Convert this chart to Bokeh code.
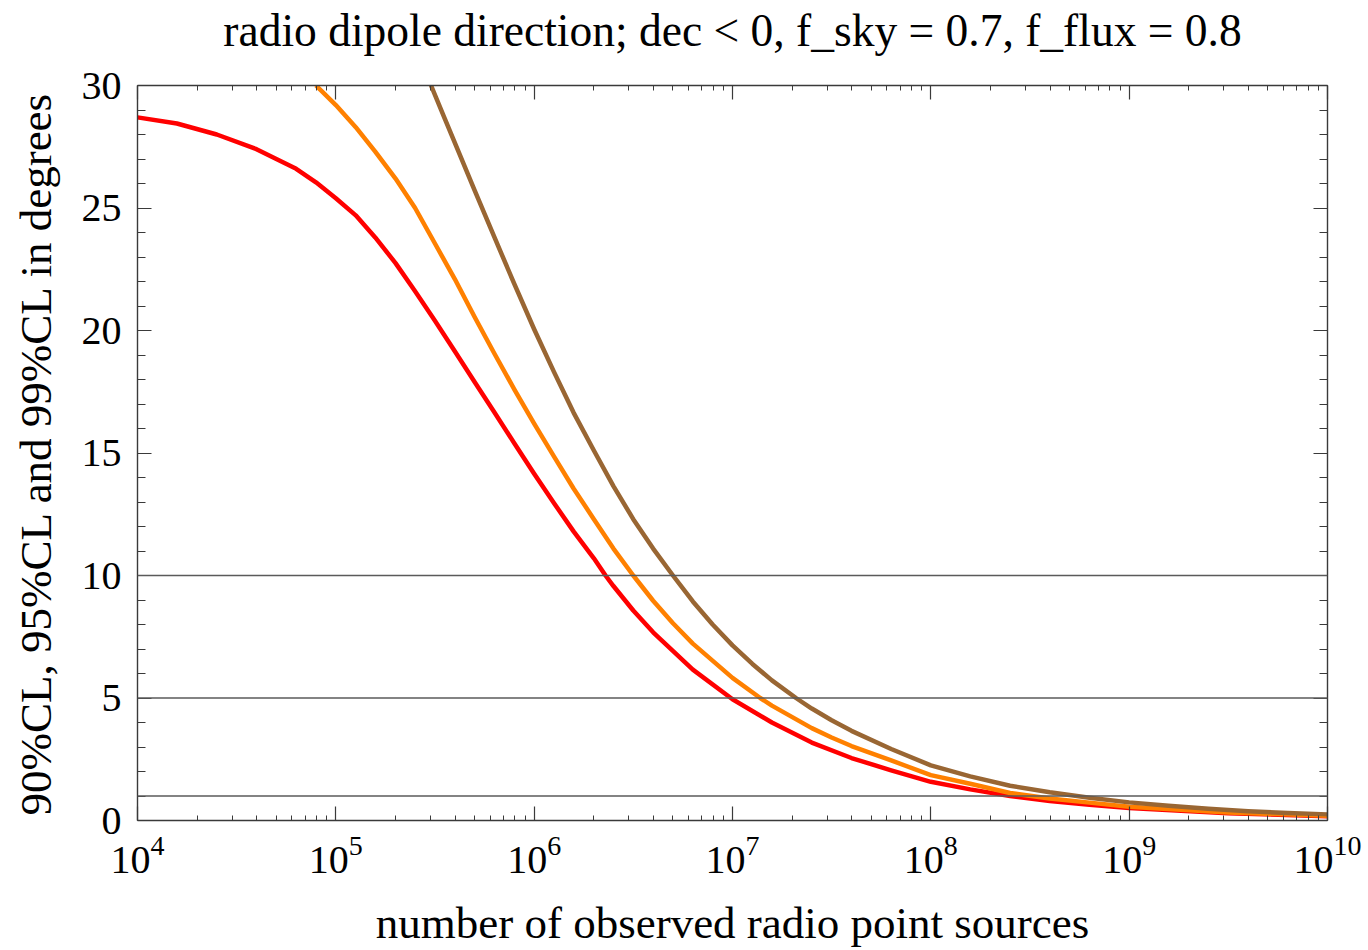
from bokeh.plotting import figure
from bokeh.models import (LogAxis, LinearAxis, SingleIntervalTicker, FixedTicker, Span,
                          Range1d, CustomJSTickFormatter)
from bokeh.embed import file_html
from bokeh.resources import INLINE

# ---------------- data ----------------
title_text = "radio dipole direction; dec < 0, f_sky = 0.7, f_flux = 0.8"
x_label = "number of observed radio point sources"
y_label = "90%CL, 95%CL and 99%CL in degrees"

# 90% CL (red)
n_90 = [1.0e4, 1.58e4, 2.51e4, 3.98e4, 6.31e4, 7.94e4, 1.0e5, 1.26e5, 1.58e5, 2.0e5,
        2.51e5, 3.16e5, 3.98e5, 5.01e5, 6.31e5, 7.94e5, 1.0e6, 1.26e6, 1.58e6, 2.0e6,
        2.29e6, 2.51e6, 3.16e6, 3.98e6, 6.31e6, 1.0e7, 1.58e7, 2.51e7, 3.98e7, 6.31e7,
        1.0e8, 1.58e8, 2.51e8, 3.98e8, 6.31e8, 1.0e9, 3.16e9, 1.0e10]
cl_90 = [28.7, 28.45, 28.0, 27.4, 26.6, 26.05, 25.4, 24.7, 23.8, 22.75,
         21.6, 20.4, 19.15, 17.9, 16.65, 15.4, 14.15, 12.95, 11.8, 10.7,
         10.0, 9.57, 8.57, 7.68, 6.16, 4.95, 4.0, 3.18, 2.55, 2.05,
         1.58, 1.27, 1.0, 0.8, 0.64, 0.51, 0.3, 0.17]

# 95% CL (orange)
n_95 = [7.94e4, 1.0e5, 1.26e5, 1.58e5, 2.0e5, 2.51e5, 3.16e5, 3.98e5, 5.01e5, 6.31e5,
        7.94e5, 1.0e6, 1.26e6, 1.58e6, 2.0e6, 2.51e6, 3.16e6, 3.98e6, 5.01e6, 6.31e6,
        1.0e7, 1.38e7, 1.58e7, 2.51e7, 3.16e7, 3.98e7, 6.31e7, 1.0e8, 1.58e8, 2.51e8,
        3.98e8, 6.31e8, 1.0e9, 3.16e9, 1.0e10]
cl_95 = [30.0, 29.2, 28.3, 27.3, 26.2, 25.0, 23.55, 22.1, 20.55, 19.05,
         17.6, 16.2, 14.85, 13.55, 12.3, 11.1, 10.0, 8.97, 8.05, 7.22,
         5.82, 5.0, 4.69, 3.77, 3.39, 3.04, 2.45, 1.85, 1.5, 1.12,
         0.9, 0.73, 0.56, 0.33, 0.19]

# 99% CL (brown)
n_99 = [3.02e5, 3.55e5, 4.17e5, 5.01e5, 6.31e5, 7.94e5, 1.0e6, 1.26e6, 1.58e6, 2.0e6,
        2.51e6, 3.16e6, 3.98e6, 5.01e6, 6.31e6, 7.94e6, 1.0e7, 1.26e7, 1.58e7, 2.09e7,
        2.51e7, 3.16e7, 3.98e7, 6.31e7, 1.0e8, 1.58e8, 2.51e8, 3.98e8, 6.31e8, 1.0e9,
        1.58e9, 2.51e9, 3.98e9, 6.31e9, 1.0e10]
cl_99 = [30.0, 28.63, 27.27, 25.72, 23.8, 21.9, 20.05, 18.3, 16.65, 15.1,
         13.65, 12.3, 11.1, 10.0, 8.94, 8.0, 7.15, 6.39, 5.72, 5.0,
         4.57, 4.09, 3.66, 2.92, 2.25, 1.8, 1.42, 1.15, 0.93, 0.74,
         0.6, 0.48, 0.38, 0.31, 0.25]

ref_levels = [1, 5, 10]
x_major_ticks = [1e4, 1e5, 1e6, 1e7, 1e8, 1e9, 1e10]
x_minor_ticks = [m * t for t in x_major_ticks[:-1] for m in range(2, 10)]

FONT = "Liberation Serif"
AX = "#3a3a3a"

p = figure(width=1368, height=950, x_axis_type="log",
           x_range=Range1d(1e4, 1e10), y_range=Range1d(0, 30),
           output_backend="svg", toolbar_location=None,
           min_border_left=137, min_border_right=41,
           min_border_top=85, min_border_bottom=130)
p.background_fill_color = "white"
p.border_fill_color = "white"
p.outline_line_color = None
p.grid.visible = False

bottom = p.below[0]
left = p.left[0]
top = LogAxis()
right = LinearAxis()
p.add_layout(top, "above")
p.add_layout(right, "right")

xt = FixedTicker(ticks=x_major_ticks, minor_ticks=x_minor_ticks)
yt = SingleIntervalTicker(interval=5, num_minor_ticks=5)

for ax in [bottom, top]:
    ax.ticker = xt
for ax in [left, right]:
    ax.ticker = yt

for ax in [bottom, top, left, right]:
    ax.axis_line_color = AX
    ax.axis_line_width = 1.4
    ax.major_tick_line_color = AX
    ax.minor_tick_line_color = AX
    ax.major_tick_line_width = 1.2
    ax.minor_tick_line_width = 1.0
    ax.major_tick_out = 0
    ax.minor_tick_out = 0
    ax.major_tick_in = 14
    ax.major_label_text_font = FONT
    ax.major_label_text_font_size = "40px"
    ax.major_label_text_color = "black"
    ax.axis_label_text_font = FONT
    ax.axis_label_text_font_size = "45px"
    ax.axis_label_text_font_style = "normal"
    ax.axis_label_text_color = "black"

for ax in [bottom, top]:
    ax.minor_tick_in = 5
for ax in [left, right]:
    ax.minor_tick_in = 8

for ax in [top, right]:
    ax.formatter = CustomJSTickFormatter(code="return '';")
    ax.major_label_text_font_size = "2px"
    ax.major_label_standoff = 0

# the chart title is carried by the (label-less) top frame axis
top.axis_label = title_text
top.axis_label_text_font_size = "45.5px"
top.axis_label_standoff = 30

bottom.axis_label = x_label
left.axis_label = y_label
bottom.major_label_standoff = 15
left.major_label_standoff = 16
bottom.axis_label_standoff = 22
left.axis_label_standoff = 18

for lvl in ref_levels:
    p.add_layout(Span(location=lvl, dimension="width", line_color="#5a5a5a", line_width=1.5))

p.line(n_90, cl_90, line_color="#ff0000", line_width=4.5, line_join="round")
p.line(n_95, cl_95, line_color="#ff8000", line_width=4.5, line_join="round")
p.line(n_99, cl_99, line_color="#996633", line_width=4.5, line_join="round")

open("out.html", "w").write(file_html(p, INLINE))
